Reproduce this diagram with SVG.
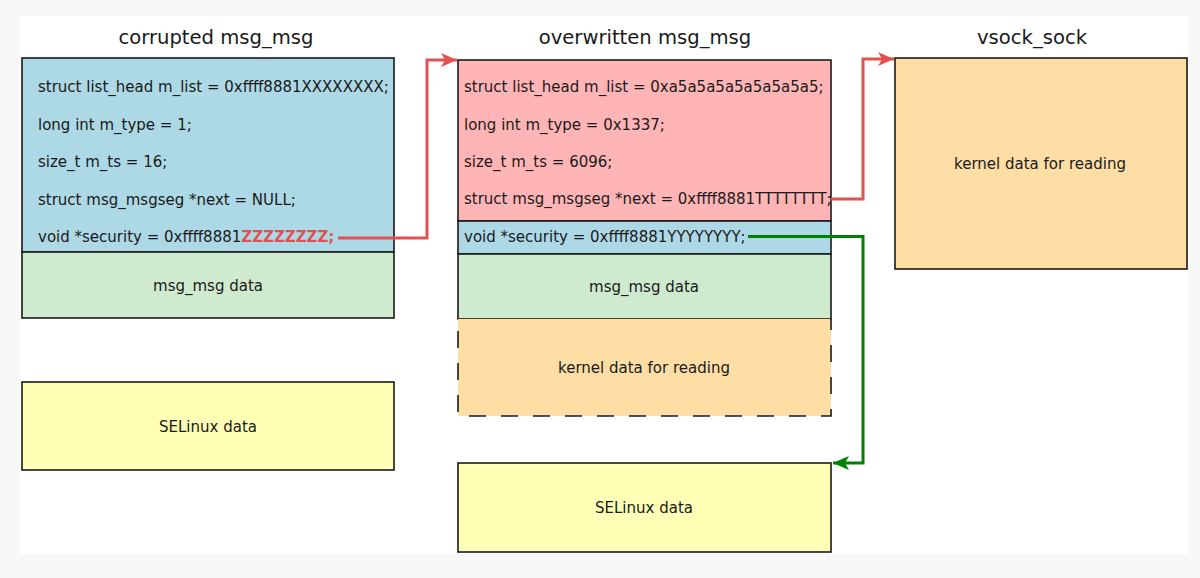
<svg xmlns="http://www.w3.org/2000/svg" width="1200" height="578" viewBox="0 0 1200 578">
<style>
text{font-family:"DejaVu Sans","Liberation Sans",sans-serif;fill:#1a1a1a}
.title{font-size:19.6px;text-anchor:middle}
.f{font-size:15px}
.c{font-size:15px;text-anchor:middle;dominant-baseline:central}
.box{stroke:#1a1a1a;stroke-width:1.6}
.blue{fill:#add8e6}.green{fill:#cfebcf}.pink{fill:#ffb5b5}.orange{fill:#fedea5}.yellow{fill:#ffffb5}
.red{stroke:#e05252;stroke-width:3;fill:none}
.grn{stroke:#008000;stroke-width:3;fill:none}
</style>
<defs>
<marker id="ar" markerUnits="userSpaceOnUse" markerWidth="18" markerHeight="14" refX="16" refY="7" orient="auto"><path d="M0,0 L16,7 L0,14 L4,7 z" fill="#e05252"/></marker>
<marker id="ag" markerUnits="userSpaceOnUse" markerWidth="18" markerHeight="14" refX="16" refY="7" orient="auto"><path d="M0,0 L16,7 L0,14 L4,7 z" fill="#008000"/></marker>
</defs>
<rect width="1200" height="578" fill="#f8f8f8"/>
<rect x="20" y="16" width="1168" height="538" fill="#ffffff"/>
<g id="corrupted">
<text class="title" x="216" y="44">corrupted msg_msg</text>
<rect class="box blue" x="22" y="58" width="372" height="194"/>
<text class="f" x="38" y="92">struct list_head m_list = 0xffff8881XXXXXXXX;</text>
<text class="f" x="38" y="130">long int m_type = 1;</text>
<text class="f" x="38" y="167">size_t m_ts = 16;</text>
<text class="f" x="38" y="205">struct msg_msgseg *next = NULL;</text>
<text class="f" x="38" y="242">void *security = 0xffff8881<tspan style="fill:#e05252;font-weight:bold">ZZZZZZZZ;</tspan></text>
</g>
<g id="corrupted-data">
<rect class="box green" x="22" y="252" width="372" height="66"/>
<text class="c" x="208" y="285.5">msg_msg data</text>
</g>
<g id="selinux-left">
<rect class="box yellow" x="22" y="382" width="372" height="88"/>
<text class="c" x="208" y="426.5">SELinux data</text>
</g>
<g id="overwritten">
<text class="title" x="645" y="44">overwritten msg_msg</text>
<rect class="box pink" x="458" y="60" width="373" height="161"/>
<text class="f" x="464" y="92">struct list_head m_list = 0xa5a5a5a5a5a5a5a5;</text>
<text class="f" x="464" y="130">long int m_type = 0x1337;</text>
<text class="f" x="464" y="167">size_t m_ts = 6096;</text>
<text class="f" x="464" y="204">struct msg_msgseg *next = 0xffff8881TTTTTTTT;</text>
</g>
<g id="overwritten-security">
<rect class="box blue" x="458" y="221" width="373" height="33"/>
<text class="f" x="464" y="242">void *security = 0xffff8881YYYYYYYY;</text>
</g>
<g id="overwritten-data">
<rect class="box green" x="458" y="254" width="373" height="65"/>
<text class="c" x="644" y="287">msg_msg data</text>
</g>
<g id="overflow-read">
<rect class="orange" x="458" y="319" width="373" height="97"/>
<path d="M458,319 V416 H831 V319" fill="none" stroke="#1a1a1a" stroke-width="1.6" stroke-dasharray="17,15" stroke-dashoffset="-12"/>
<text class="c" x="644" y="367.5">kernel data for reading</text>
</g>
<g id="selinux-right">
<rect class="box yellow" x="458" y="463" width="373" height="89"/>
<text class="c" x="644" y="508">SELinux data</text>
</g>
<g id="vsock">
<text class="title" x="1032" y="44">vsock_sock</text>
<rect class="box orange" x="895" y="58" width="292" height="211"/>
<text class="c" x="1040" y="164">kernel data for reading</text>
</g>
<g id="connectors">
<path class="red" d="M338,238 H427 V60 H457" marker-end="url(#ar)"/>
<path class="red" d="M831,199 H863 V59 H894" marker-end="url(#ar)"/>
<path class="grn" d="M748,236.5 H863 V463 H833" marker-end="url(#ag)"/>
</g>
</svg>
